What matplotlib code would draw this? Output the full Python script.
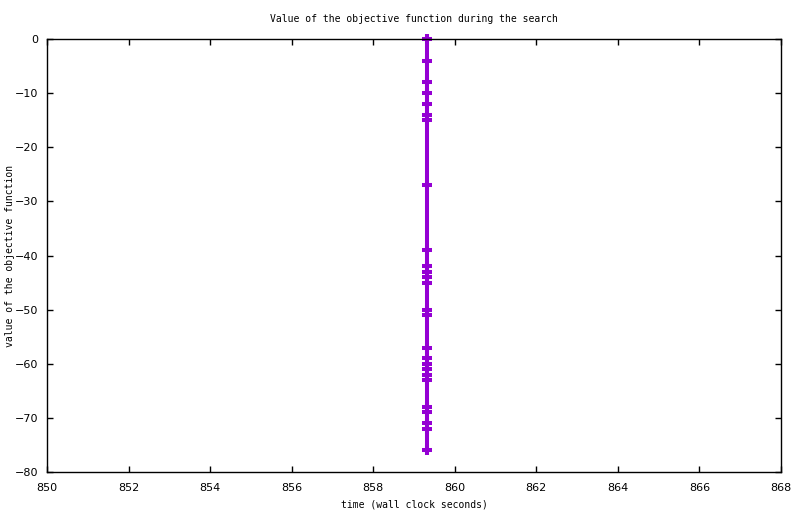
import matplotlib
matplotlib.use("Agg")
import matplotlib.pyplot as plt

# objective value at each improvement (all found at about the same wall clock time)
times = [859.31] * 26
values = [0, -4, -8, -10, -12, -14, -15, -27, -39, -42, -43, -44, -45,
          -50, -51, -57, -59, -60, -61, -62, -63, -68, -69, -71, -72, -76]

xticks = list(range(850, 869, 2))
yticks = list(range(-80, 1, 10))

fig = plt.figure(figsize=(8, 5.14), dpi=100)
ax = fig.add_axes([0.05875, 0.0817, 0.9175, 0.8424])

ax.plot(times, values, color="#9400d3", lw=2.9, marker="+",
        markersize=7.5, markeredgewidth=2.9, clip_on=False)

ax.set_xlim(850, 868)
ax.set_ylim(-80, 0)
ax.set_xticks(xticks)
ax.set_yticks(yticks)
ax.tick_params(direction="in", length=4, width=1, top=True, right=True,
               labelsize=8)
ax.tick_params(axis="x", pad=8)
ax.tick_params(axis="y", pad=6)
for s in ax.spines.values():
    s.set_linewidth(1)

mono = "DejaVu Sans Mono"
ax.set_title("Value of the objective function during the search",
             family=mono, fontsize=7, pad=12)
ax.set_xlabel("time (wall clock seconds)", family=mono, fontsize=7)
ax.set_ylabel("value of the objective function", family=mono, fontsize=7)
ax.xaxis.set_label_coords(0.5, -0.076)
ax.xaxis.label.set_va("center")
ax.yaxis.set_label_coords(-0.05, 0.5)
ax.yaxis.label.set_va("center")

fig.savefig("out.png", dpi=100)
